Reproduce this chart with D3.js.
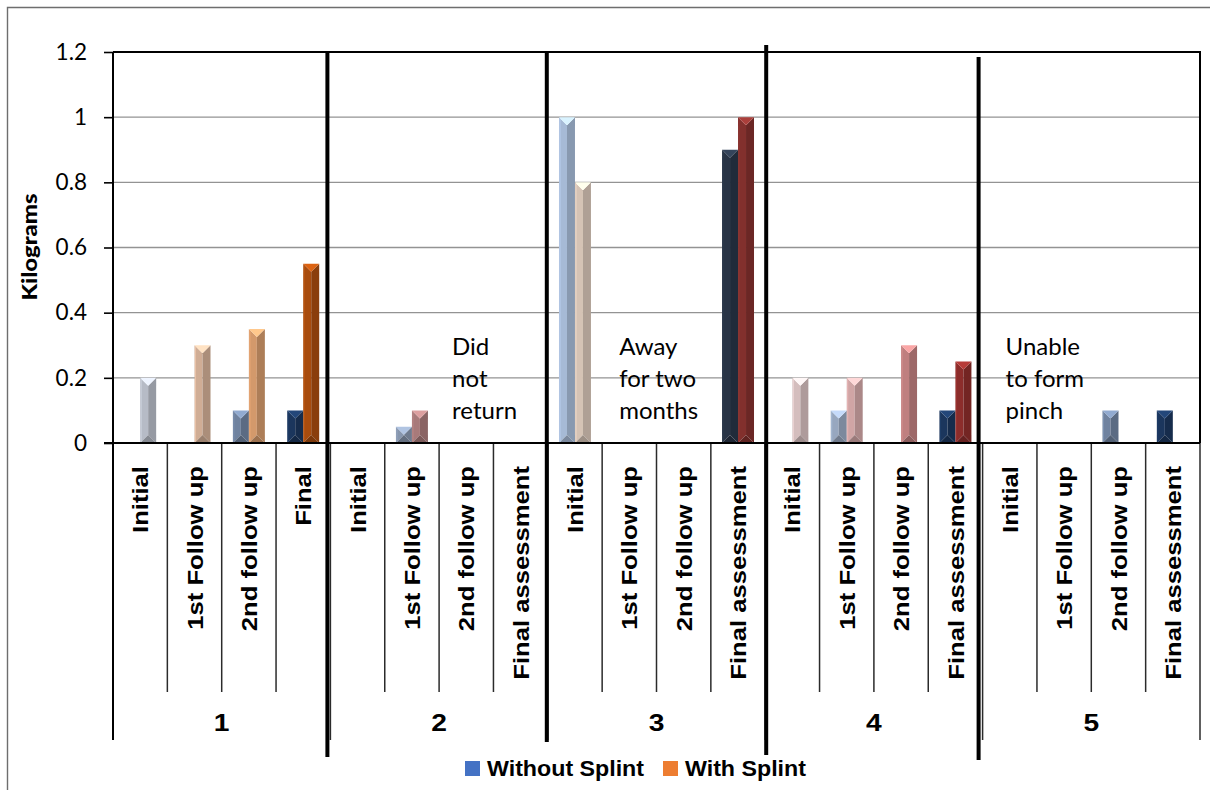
<!DOCTYPE html>
<html>
<head>
<meta charset="utf-8">
<script src="https://cdn.jsdelivr.net/npm/d3@7"></script>
<style>
  html, body { margin: 0; padding: 0; background: #ffffff; }
  svg { display: block; }
</style>
</head>
<body>
<svg id="chart" width="1210" height="790"></svg>
<script>
// ---- data ----
const patients = ["1", "2", "3", "4", "5"];
const sessionsFirst = ["Initial", "1st Follow up", "2nd follow up", "Final"];
const sessionsOther = ["Initial", "1st Follow up", "2nd follow up", "Final assessment"];
const seriesNames = ["Without Splint", "With Splint"];

// Pinch strength (kg) per patient / session, 4 sessions per patient
const withoutSplint = [0, 0, 0.1, 0.1,   0, 0.05, 0, 0,   1.0, 0, 0, 0.9,   0, 0.1, 0, 0.1,   0, 0, 0.1, 0.1];
const withSplint    = [0.2, 0.3, 0.35, 0.55,   0, 0.1, 0, 0,   0.8, 0, 0, 1.0,   0.2, 0.2, 0.3, 0.25,   0, 0, 0, 0];

const yTicks = [0, 0.2, 0.4, 0.6, 0.8, 1, 1.2];

const notes = [
  { lines: ["Did", "not", "return"], cat: 6 },
  { lines: ["Away", "for two", "months"], cat: 9 },
  { lines: ["Unable", "to form", "pinch"], cat: 16 }
];

// ---- styles ----
const withoutColors = [null, null, "#6f829f", "#1b365d",  null, "#8796ad", null, null,
                       "#a6bad6", null, null, "#283446",  null, "#97a7bf", null, "#1b365d",
                       null, null, "#6f829f", "#1b365d"];
const withColors    = ["#b6bbc6", "#d0ad95", "#d3996b", "#a84c0e",  null, "#a87a7a", null, null,
                       "#d5c3b5", null, null, "#82302d",  "#d4bdbd", "#d0a5a5", "#bf7f7f", "#8c2d2b",
                       null, null, null, null];
const legendColors = ["#4472c4", "#ed7d31"];

const noteOffsets = [13, 17, 23];
// hand drawn dividers between patients: [dx from boundary, top, bottom]
const dividers = [[-3, 52, 757], [-1, 52, 742], [1, 45, 755], [-4, 57, 760]];

// ---- layout ----
const svg = d3.select("#chart");
const plotLeft = 113, plotRight = 1200, plotTop = 52, plotBase = 443;
const tickBottom = 692, groupBottom = 740;

const nCat = patients.length * 4;
const categories = d3.range(nCat).map(i => ({
  i,
  patient: patients[Math.floor(i / 4)],
  label: (Math.floor(i / 4) === 0 ? sessionsFirst : sessionsOther)[i % 4]
}));

const x0 = d3.scaleBand().domain(d3.range(nCat)).range([plotLeft, plotRight]).padding(0);
const x1 = d3.scaleBand().domain([0, 1]).range([0, x0.bandwidth()]).paddingInner(0).paddingOuter(0.7);
const y = d3.scaleLinear().domain([0, 1.2]).range([plotBase, plotTop]);

// outer chart frame
svg.append("path")
  .attr("d", `M7.5,${790 + 5} V7.5 H${1210 + 5}`)
  .attr("fill", "none").attr("stroke", "#6e6e6e").attr("stroke-width", 1.4);

// gridlines
svg.append("g").selectAll("line")
  .data(yTicks.filter(t => t > 0 && t < 1.2))
  .join("line")
  .attr("x1", plotLeft).attr("x2", plotRight)
  .attr("y1", d => y(d)).attr("y2", d => y(d))
  .attr("stroke", "#939393").attr("stroke-width", 1.4);

// plot border (top and right)
svg.append("path")
  .attr("d", `M${plotLeft},${y(1.2)} H${plotRight} V${plotBase}`)
  .attr("fill", "none").attr("stroke", "#000").attr("stroke-width", 2);

// y axis
const yAxis = svg.append("g")
  .attr("transform", `translate(${plotLeft},0)`)
  .call(d3.axisLeft(y).tickValues(yTicks).tickSize(9).tickPadding(17).tickFormat(d3.format("")));
yAxis.select(".domain").remove();
yAxis.selectAll(".tick line").attr("stroke", "#000").attr("stroke-width", 1.6);
yAxis.selectAll(".tick text")
  .attr("font-family", "Lato, sans-serif").attr("font-size", 22.5).attr("fill", "#000");

// y axis line, continued down through the category area
svg.append("line")
  .attr("x1", plotLeft).attr("x2", plotLeft).attr("y1", plotTop).attr("y2", groupBottom)
  .attr("stroke", "#000").attr("stroke-width", 2);

// category ticks
svg.append("g").selectAll("line")
  .data(d3.range(1, nCat + 1))
  .join("line")
  .attr("x1", d => x0(d - 1) + x0.bandwidth()).attr("x2", d => x0(d - 1) + x0.bandwidth())
  .attr("y1", plotBase)
  .attr("y2", d => d % 4 === 0 ? groupBottom : tickBottom)
  .attr("stroke", "#2b2b2b").attr("stroke-width", 1.5);

// bars with bevel faces
const bars = [];
categories.forEach(c => {
  [withoutSplint, withSplint].forEach((arr, s) => {
    const v = arr[c.i];
    if (v > 0) bars.push({ cat: c.i, s, v, color: (s === 0 ? withoutColors : withColors)[c.i] });
  });
});

const barG = svg.append("g").selectAll("g").data(bars).join("g");
barG.each(function (d) {
  const g = d3.select(this);
  const bx = x0(d.cat) + x1(d.s);
  const w = x1.bandwidth();
  const yt = y(d.v), yb = y(0);
  const h = yb - yt;
  const dd = Math.min(w / 2, h / 2);
  const c = d3.color(d.color);
  const mx = bx + w / 2;
  const faces = [
    { pts: [[bx, yt], [mx, yt + dd], [mx, yb - dd], [bx, yb]], fill: c.formatHex() },
    { pts: [[bx + w, yt], [mx, yt + dd], [mx, yb - dd], [bx + w, yb]], fill: c.darker(0.55).formatHex() },
    { pts: [[bx, yt], [bx + w, yt], [mx, yt + dd]], fill: c.brighter(0.75).formatHex() },
    { pts: [[bx, yb], [bx + w, yb], [mx, yb - dd]], fill: c.darker(0.85).formatHex() }
  ];
  g.selectAll("polygon").data(faces).join("polygon")
    .attr("points", f => f.pts.map(p => p.join(",")).join(" "))
    .attr("fill", f => f.fill);
  g.append("line")
    .attr("x1", bx + 1).attr("x2", bx + 1).attr("y1", yt + 1).attr("y2", yb - 1)
    .attr("stroke", c.brighter(0.5).formatHex()).attr("stroke-width", 1).attr("opacity", 0.6);
});

// x axis line at zero
svg.append("line")
  .attr("x1", plotLeft - 9).attr("x2", plotRight).attr("y1", plotBase).attr("y2", plotBase)
  .attr("stroke", "#000").attr("stroke-width", 2);

// session labels (rotated)
svg.append("g").selectAll("text")
  .data(categories)
  .join("text")
  .attr("transform", d => `translate(${x0(d.i) + x0.bandwidth() / 2},466) rotate(-90) scale(1.14,1)`)
  .attr("text-anchor", "end").attr("dy", "0.36em")
  .attr("font-family", "'Liberation Sans', Arial, sans-serif").attr("font-weight", "bold")
  .attr("font-size", 22.5).attr("fill", "#000")
  .text(d => d.label);

// patient labels
svg.append("g").selectAll("text")
  .data(patients)
  .join("text")
  .attr("transform", (d, i) => `translate(${x0(i * 4) + x0.bandwidth() * 2},731) scale(1.2,1)`)
  .attr("text-anchor", "middle")
  .attr("font-family", "'Liberation Sans', Arial, sans-serif").attr("font-weight", "bold")
  .attr("font-size", 23.5).attr("fill", "#000")
  .text(d => d);

// y axis title
svg.append("text")
  .attr("transform", "translate(30,247) rotate(-90) scale(1.14,1)")
  .attr("text-anchor", "middle").attr("dy", "0.35em")
  .attr("font-family", "Lato, sans-serif").attr("font-weight", 900)
  .attr("font-size", 21).attr("fill", "#000")
  .text("Kilograms");

// notes inside the plot
notes.forEach((n, k) => {
  const t = svg.append("text")
    .attr("font-family", "Lato, sans-serif").attr("font-size", 24).attr("fill", "#000");
  n.lines.forEach((ln, j) => {
    t.append("tspan").attr("x", x0(n.cat) + noteOffsets[k]).attr("y", 355 + j * 32).text(ln);
  });
});

// hand drawn dividers
svg.append("g").selectAll("line")
  .data(dividers)
  .join("line")
  .attr("x1", (d, i) => x0((i + 1) * 4) + d[0]).attr("x2", (d, i) => x0((i + 1) * 4) + d[0])
  .attr("y1", d => d[1]).attr("y2", d => d[2])
  .attr("stroke", "#000").attr("stroke-width", 4);

// legend
const legend = svg.append("g");
const legendX = [465, 663];
seriesNames.forEach((name, i) => {
  legend.append("rect")
    .attr("x", legendX[i]).attr("y", 761).attr("width", 15).attr("height", 15)
    .attr("fill", legendColors[i]);
  legend.append("text")
    .attr("transform", `translate(${legendX[i] + 22},776) scale(1.08,1)`)
    .attr("font-family", "'Liberation Sans', Arial, sans-serif").attr("font-weight", "bold")
    .attr("font-size", 21.5).attr("fill", "#000")
    .text(name);
});
</script>
</body>
</html>
